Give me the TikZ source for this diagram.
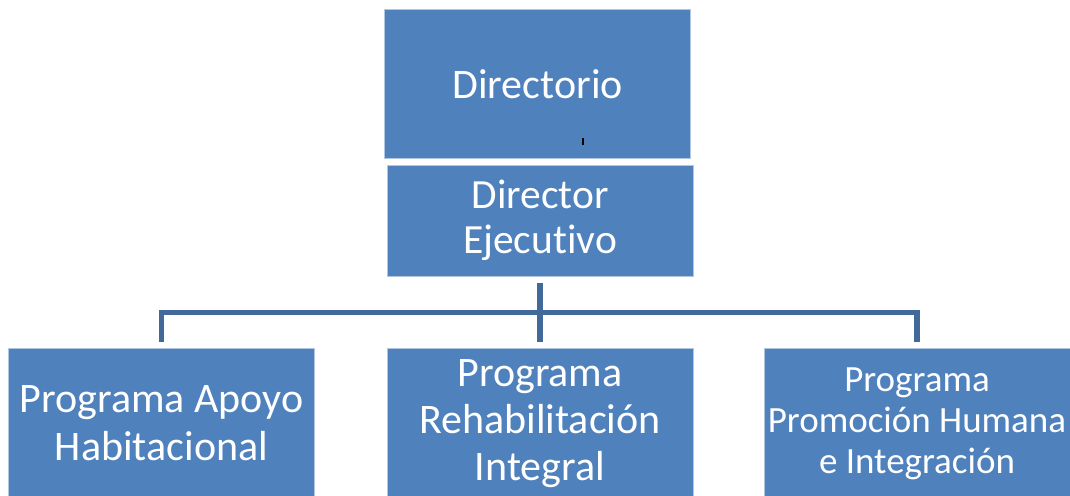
\documentclass[tikz,border=0pt]{standalone}
\usepackage{fontspec}
\setmainfont{Carlito}[Ligatures=NoCommon]
\definecolor{boxblue}{HTML}{4F81BD}
\definecolor{lineblue}{HTML}{41699A}
\tikzset{
  orgbox/.style={rectangle, fill=boxblue, draw=boxblue!45!white, line width=1pt,
    text=white, align=center, inner sep=0pt, minimum width=306pt},
  orgline/.style={draw=lineblue, line width=5.5pt}
}

\begin{document}
\begin{tikzpicture}[x=1pt,y=-1pt]
  \useasboundingbox (0,0) rectangle (1070,495);

  % Top boxes
  \node[orgbox, minimum height=148pt, font=\fontsize{42}{48}\selectfont] (dir) at (537.5,84) {Directorio};
  \node[orgbox, minimum height=111pt, font=\fontsize{41.5}{45}\selectfont] (ejec) at (540,220.5) {Director\\Ejecutivo};

  % Programs
  \node[orgbox, anchor=north, minimum height=150pt, font=\fontsize{42}{48}\selectfont] (apoyo) at (161.5,348) {Programa Apoyo\\Habitacional};
  \node[orgbox, anchor=north, minimum height=150pt, font=\fontsize{42}{47}\selectfont] (rehab) at (540,348) {Programa\\Rehabilitación\\Integral};
  \node[orgbox, anchor=north, minimum height=150pt, font=\fontsize{37}{41}\selectfont] (promo) at (917,348) {Programa\\Promoción Humana\\e Integración};

  % small mark
  \draw[line width=1.5pt] (583,138) -- (583,145);

  % Connectors
  \draw[orgline] ([yshift=-6pt]ejec.south) -- ([yshift=6pt]rehab.north);
  \draw[orgline] ([yshift=6pt]apoyo.north) |- ([yshift=-36pt]ejec.south) -| ([yshift=6pt]promo.north);
\end{tikzpicture}
\end{document}
